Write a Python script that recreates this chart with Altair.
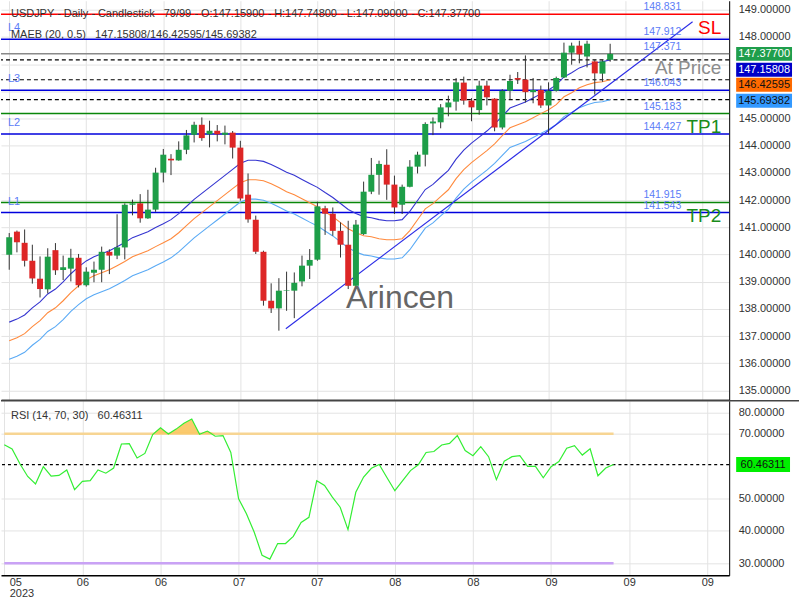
import altair as alt
import pandas as pd

# ------------------------------------------------------------------ data
bar_index = list(range(79))

opens = [139.99, 140.84, 140.43, 139.77, 139.11, 138.72, 140.16, 139.43, 139.48, 139.88,
         138.87, 139.33, 139.44, 140.10, 139.96, 140.26, 141.83, 141.88, 141.33, 141.65,
         143.01, 143.52, 143.46, 143.85, 144.40, 144.77, 144.42, 144.55, 144.40, 144.48,
         143.93, 142.20, 141.28, 140.10, 138.30, 138.02, 138.67, 138.67, 139.01, 139.59,
         139.81, 141.70, 141.50, 140.87, 140.36, 138.85, 140.75, 142.31, 142.93, 143.30,
         142.57, 141.83, 142.49, 143.23, 143.67, 144.82, 144.86, 145.41, 145.62, 146.32,
         145.66, 145.31, 146.21, 145.73, 144.67, 146.02, 146.49, 146.43, 145.97, 146.05,
         145.48, 146.02, 146.51, 147.42, 147.68, 147.28, 147.10, 146.65, 147.159]
highs = [140.79, 140.88, 140.92, 140.36, 139.93, 140.23, 140.42, 139.96, 140.21, 140.02,
         139.53, 139.74, 140.29, 140.19, 141.48, 141.88, 142.02, 142.22, 142.38, 143.19,
         143.88, 143.69, 144.16, 144.58, 144.88, 145.04, 144.92, 144.76, 144.74, 144.54,
         144.18, 142.98, 141.43, 140.14, 138.94, 139.13, 139.37, 139.34, 139.96, 140.20,
         141.94, 141.79, 141.73, 141.18, 141.24, 141.27, 142.68, 143.55, 143.45, 143.87,
         142.90, 142.57, 143.47, 143.78, 144.86, 145.04, 145.53, 145.84, 146.49, 146.54,
         145.75, 146.39, 146.39, 145.75, 146.08, 146.61, 146.71, 147.32, 146.49, 146.21,
         146.33, 146.54, 147.79, 147.79, 147.86, 147.86, 147.15, 147.15, 147.748]
lows = [139.44, 140.08, 139.56, 138.93, 138.42, 138.57, 139.25, 139.06, 139.01, 138.79,
        138.82, 138.98, 138.98, 139.28, 139.83, 139.82, 141.44, 141.17, 141.31, 141.57,
        142.65, 142.92, 143.45, 143.69, 144.12, 144.18, 143.94, 144.16, 144.05, 143.53,
        141.98, 141.17, 140.02, 138.12, 137.85, 137.20, 137.93, 137.66, 138.83, 139.10,
        139.77, 140.72, 140.69, 139.89, 138.73, 138.73, 140.72, 142.22, 142.20, 142.01,
        141.49, 141.49, 142.47, 142.98, 143.24, 144.39, 144.64, 145.08, 145.29, 145.51,
        144.90, 145.14, 145.48, 144.53, 144.60, 145.69, 146.27, 145.59, 145.56, 145.39,
        144.43, 145.99, 146.49, 146.98, 147.03, 146.88, 145.88, 146.35, 147.09]
closes = [140.63, 140.45, 139.77, 139.12, 138.73, 139.92, 139.42, 139.53, 139.88, 138.87,
          139.37, 139.44, 140.10, 139.96, 140.26, 141.83, 141.88, 141.33, 141.65, 143.01,
          143.67, 143.46, 143.85, 144.38, 144.77, 144.28, 144.55, 144.42, 144.48, 143.93,
          142.06, 141.29, 140.10, 138.30, 138.02, 138.67, 138.69, 138.96, 139.59, 139.80,
          141.77, 141.50, 140.87, 140.36, 138.85, 141.10, 142.31, 142.93, 143.33, 142.57,
          141.73, 142.49, 143.23, 143.67, 144.80, 144.89, 145.41, 145.59, 146.33, 145.66,
          145.41, 146.21, 145.78, 144.67, 146.02, 146.38, 146.43, 145.97, 146.05, 145.48,
          146.02, 146.49, 147.42, 147.68, 147.36, 147.75, 146.66, 147.10, 147.377]
ma_mid = [136.83, 136.94, 137.09, 137.35, 137.57, 137.86, 138.04, 138.30, 138.60, 138.85,
          139.07, 139.22, 139.33, 139.44, 139.59, 139.74, 139.92, 140.03, 140.14, 140.29,
          140.43, 140.58, 140.80, 141.06, 141.32, 141.54, 141.76, 141.98, 142.20, 142.42,
          142.64, 142.75, 142.75, 142.71, 142.60, 142.46, 142.31, 142.20, 142.05, 141.90,
          141.76, 141.57, 141.39, 141.17, 140.95, 140.80, 140.69, 140.65, 140.58, 140.54,
          140.54, 140.58, 140.88, 141.28, 141.68, 141.87, 142.13, 142.38, 142.79, 143.12,
          143.38, 143.60, 143.82, 144.07, 144.37, 144.66, 144.77, 144.88, 145.03, 145.18,
          145.32, 145.51, 145.80, 145.95, 146.13, 146.24, 146.32, 146.35, 146.426]
rsi_vals = [66.6, 65.3, 60.7, 56.8, 54.5, 59.8, 56.9, 57.1, 58.8, 52.7,
            55.3, 55.5, 58.8, 57.8, 59.4, 66.8, 66.9, 62.5, 63.9, 69.7,
            71.8, 69.9, 71.4, 73.2, 74.5, 69.8, 70.8, 69.2, 69.4, 64.2,
            49.9, 45.3, 39.6, 32.5, 31.3, 36.1, 36.1, 38.3, 42.6, 44.2,
            55.5, 54.0, 50.4, 47.3, 40.4, 51.9, 56.6, 59.3, 60.5, 56.4,
            52.4, 55.5, 58.6, 60.4, 64.2, 64.5, 66.5, 67.0, 69.4, 64.8,
            63.2, 66.0, 62.9, 55.8, 61.5, 62.9, 63.2, 59.9, 59.9, 56.4,
            59.8, 61.4, 65.5, 66.3, 63.4, 65.3, 57.0, 59.4, 60.46311]
ENVELOPE_PCT = 0.5

x_tick_values = list(range(0, 100, 10))
x_tick_labels = ["05", "06", "06", "07", "07", "08", "08", "09", "09", "09"]
x_first_sub = "2023"
price_ticks = list(range(135, 150))
price_ticks_hidden = [146, 147]          # covered by the price tags in the reference
rsi_ticks = [30, 40, 50, 70]
rsi_top_tick = 76.6
rsi_top_label = "80.00000"

level_prices = [148.831, 147.912, 147.377, 146.043, 145.183, 144.427, 141.915, 141.543]
level_colors = ["#ff0000", "#0000dd", "#8a8a8a", "#0000dd", "#0a870a", "#0000dd", "#0a870a", "#0000dd"]
level_labels = ["148.831", "147.912", "147.371", "146.043", "145.183", "144.427", "141.915", "141.543"]
dashed_prices = [147.15808, 146.42595, 145.69382]
l_names = ["L4", "L3", "L2", "L1"]
l_prices = [147.912, 146.043, 144.427, 141.543]
big_texts = ["SL", "At Price", "TP1", "TP2"]
big_prices = [148.831, 147.377, 145.183, 141.915]
big_colors = ["#ff0000", "#8c8c8c", "#1a8c1a", "#1a8c1a"]
trend_i = [35.9, 88.7]
trend_p = [137.27, 148.56]

tag_values = [147.377, 147.15808, 146.42595, 145.69382]
tag_texts = ["147.37700", "147.15808", "146.42595", "145.69382"]
tag_bg = ["#1f9e4c", "#0000c8", "#ff6a00", "#3399ff"]
tag_fg = ["#ffffff", "#ffffff", "#111111", "#111111"]
tag_shift = [0, 10, 5, 1]

rsi_last = 60.46311
header1 = ("USDJPY - Daily - Candlestick\u00a0\u00a0\u00a079/99 - O:147.15900 - "
           "H:147.74800 - L:147.09000 - C:147.37700")
header2 = "MAEB (20, 0.5)\u00a0\u00a0\u00a0147.15808/146.42595/145.69382"
rsi_header = "RSI (14, 70, 30)\u00a0\u00a0\u00a060.46311"
watermark = "Arincen"

# ------------------------------------------------------------------ style
FONT = "Liberation Sans"
W = 730
H_MAIN = 400
H_RSI = 175
X_DOMAIN = [-0.42, 92.8]
Y_DOMAIN = [134.66, 149.33]
RSI_DOMAIN = [26.3, 80.15]
GREEN = "#1d9e48"
RED = "#dd2626"
GRID = "#e3e3e3"

df = pd.DataFrame({"i": bar_index, "open": opens, "high": highs, "low": lows,
                   "close": closes, "mid": ma_mid})

x_scale = alt.Scale(domain=X_DOMAIN, nice=False, zero=False)
y_scale = alt.Scale(domain=Y_DOMAIN, nice=False, zero=False)
r_scale = alt.Scale(domain=RSI_DOMAIN, nice=False, zero=False)

hidden_js = "[" + ",".join(str(v) for v in price_ticks_hidden) + "]"
x_axis_main = alt.Axis(values=x_tick_values, labels=False, ticks=False, title=None,
                       grid=True, gridColor=GRID, domain=True, domainColor="#444444",
                       domainWidth=1.5, minExtent=0, zindex=0)
y_axis_main = alt.Axis(orient="right", values=price_ticks, title=None,
                       labelExpr=f"indexof({hidden_js}, datum.value) >= 0 ? '' : format(datum.value, '.5f')",
                       ticks=False, labelPadding=9, grid=True, gridColor=GRID,
                       domainColor="#000000", labelFontSize=11, labelColor="#333333",
                       zindex=0)


def X(f):
    return alt.X(f, type="quantitative", scale=x_scale, axis=x_axis_main)


def Y(f):
    return alt.Y(f, type="quantitative", scale=y_scale, axis=y_axis_main)


levels = alt.Chart(pd.DataFrame({"price": level_prices, "c": level_colors})).mark_rule(
    strokeWidth=1.5).encode(y=Y("price"), color=alt.Color("c:N", scale=None))
dashed = alt.Chart(pd.DataFrame({"price": dashed_prices})).mark_rule(
    strokeWidth=1.2, strokeDash=[4, 3], color="#000000").encode(y=Y("price"))

ma_base = alt.Chart(df).transform_calculate(
    upper=f"datum.mid * (1 + {ENVELOPE_PCT} / 100)",
    lower=f"datum.mid * (1 - {ENVELOPE_PCT} / 100)")
ma_up = ma_base.mark_line(color="#3535d0", strokeWidth=1.1).encode(x=X("i"), y=Y("upper"))
ma_md = ma_base.mark_line(color="#ff8a3d", strokeWidth=1.1).encode(x=X("i"), y=Y("mid"))
ma_lo = ma_base.mark_line(color="#5aaaf5", strokeWidth=1.1).encode(x=X("i"), y=Y("lower"))

trend = alt.Chart(pd.DataFrame({"i": trend_i, "p": trend_p})).mark_line(
    color="#2b2be6", strokeWidth=1.1).encode(x=X("i"), y=Y("p"))

wick = alt.Chart(df).mark_rule(color="#333333", strokeWidth=1).encode(
    x=X("i"), y=Y("low"), y2="high")
body = alt.Chart(df).mark_bar(size=6).encode(
    x=X("i"), y=Y("open"), y2="close",
    color=alt.condition("datum.close >= datum.open", alt.value(GREEN), alt.value(RED)))

lvl_text = alt.Chart(pd.DataFrame({"price": level_prices, "t": level_labels})).mark_text(
    align="left", baseline="middle", dy=-7, fontSize=10.5, color="#5b7cf7").encode(
    x=alt.value(644), y=Y("price"), text="t:N")
l_text = alt.Chart(pd.DataFrame({"price": l_prices, "t": l_names})).mark_text(
    align="left", baseline="middle", dy=-11, fontSize=11, color="#5b7cf7").encode(
    x=alt.value(7), y=Y("price"), text="t:N")
big_text = alt.Chart(pd.DataFrame({"price": big_prices, "t": big_texts, "c": big_colors})).mark_text(
    align="right", baseline="middle", dy=14, fontSize=19).encode(
    x=alt.value(722), y=Y("price"), text="t:N", color=alt.Color("c:N", scale=None))

h1 = alt.Chart(pd.DataFrame({"t": [header1]})).mark_text(
    align="left", baseline="middle", fontSize=11, color="#333333").encode(
    x=alt.value(10), y=alt.value(13), text="t:N")
h2 = alt.Chart(pd.DataFrame({"t": [header2]})).mark_text(
    align="left", baseline="middle", fontSize=11, color="#333333").encode(
    x=alt.value(10), y=alt.value(34), text="t:N")
wm = alt.Chart(pd.DataFrame({"t": [watermark]})).mark_text(
    align="center", baseline="middle", fontSize=32, color="#666666").encode(
    x=alt.value(400), y=alt.value(298), text="t:N")

tags = []
for p, txt, bg, fg, off in zip(tag_values, tag_texts, tag_bg, tag_fg, tag_shift):
    d = pd.DataFrame({"price": [p], "t": [txt]})
    tags.append(alt.Chart(d).mark_tick(orient="horizontal", size=56, thickness=14,
                                       color=bg, opacity=1, yOffset=off).encode(
        x=alt.value(765), y=Y("price")))
    tags.append(alt.Chart(d).mark_text(align="center", baseline="middle", fontSize=11,
                                       color=fg, dy=off).encode(
        x=alt.value(765), y=Y("price"), text="t:N"))

main = alt.layer(levels, dashed, ma_up, ma_md, ma_lo, trend, wick, body,
                 lvl_text, l_text, big_text, h1, h2, wm, *tags).properties(
    width=W, height=H_MAIN)

# ------------------------------------------------------------------ RSI
label_js = "[" + ",".join(
    [f"['{x_tick_labels[0]}','{x_first_sub}']"] + [f"'{s}'" for s in x_tick_labels[1:]]) + "]"
x_axis_rsi = alt.Axis(values=x_tick_values, labelExpr=f"{label_js}[round(datum.value/10)]",
                      title=None, ticks=False, grid=True, gridColor=GRID, labelPadding=1,
                      labelFontSize=11, labelColor="#333333", labelFlush=10,
                      labelFlushOffset=-5, labelLineHeight=11, domainColor="#000000",
                      domainWidth=1.5, zindex=0)
rsi_tick_vals = rsi_ticks + [rsi_top_tick]
y_axis_rsi = alt.Axis(orient="right", values=rsi_tick_vals,
                      labelExpr=f"datum.value > 75 ? '{rsi_top_label}' : format(datum.value, '.5f')",
                      title=None, ticks=False, labelPadding=9, grid=True, gridColor=GRID,
                      domainColor="#000000", labelFontSize=11, labelColor="#333333", zindex=0)


def XR(f):
    return alt.X(f, type="quantitative", scale=x_scale, axis=x_axis_rsi)


def YR(f):
    return alt.Y(f, type="quantitative", scale=r_scale, axis=y_axis_rsi)


rsi_df = pd.DataFrame({"i": bar_index, "rsi": rsi_vals})
bands = alt.Chart(pd.DataFrame({"x0": [bar_index[0]] * 2, "x1": [bar_index[-1]] * 2,
                                "v": [70, 30], "c": ["#f7d593", "#c9a2f5"]})).mark_rule(
    strokeWidth=2.5).encode(x=XR("x0"), x2="x1", y=YR("v"), color=alt.Color("c:N", scale=None))
ob_fill = alt.Chart(rsi_df).transform_calculate(
    top="max(datum.rsi, 70)", base="70").mark_area(color="#f9c45e", opacity=0.9).encode(
    x=XR("i"), y=YR("top"), y2="base:Q")
cur = alt.Chart(pd.DataFrame({"v": [rsi_last]})).mark_rule(
    strokeDash=[3, 3], color="#000000", strokeWidth=1.2).encode(y=YR("v"))
rsi_line = alt.Chart(rsi_df).mark_line(color="#33ee33", strokeWidth=1.2).encode(
    x=XR("i"), y=YR("rsi"))
rh = alt.Chart(pd.DataFrame({"t": [rsi_header]})).mark_text(
    align="left", baseline="middle", fontSize=11, color="#333333").encode(
    x=alt.value(10), y=alt.value(15), text="t:N")
rtag_d = pd.DataFrame({"v": [rsi_last], "t": [f"{rsi_last:.5f}"]})
rtag = alt.Chart(rtag_d).mark_tick(orient="horizontal", size=54, thickness=15,
                                   color="#00ee00", opacity=1).encode(x=alt.value(764), y=YR("v"))
rtag_t = alt.Chart(rtag_d).mark_text(align="center", baseline="middle", fontSize=11,
                                     color="#111111").encode(x=alt.value(764), y=YR("v"), text="t:N")
sep = alt.Chart(pd.DataFrame({"a": [0]})).mark_rule(color="#444444", strokeWidth=1.5).encode(
    x=alt.value(0), x2=alt.value(800), y=alt.value(0))

rsi = alt.layer(bands, ob_fill, cur, rsi_line, rh, rtag, rtag_t, sep).properties(
    width=W, height=H_RSI)

chart = alt.vconcat(main, rsi, spacing=0).properties(padding=0).configure(
    font=FONT).configure_view(stroke=None)

chart.save("out.html", embed_options={"renderer": "svg", "actions": False})
